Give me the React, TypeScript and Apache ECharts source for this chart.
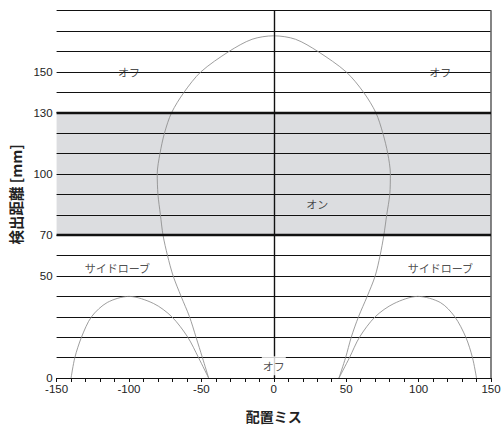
import React, { useEffect, useRef } from "react";
import * as echarts from "echarts";

// Main detection lobe (x: misalignment, y: distance)
const mainLobeX = [-45, -49.3, -53.7, -58.2, -64, -69.5, -73.4, -76.5, -78.3, -80, -80.5, -78.6, -75.5, -70.6, -62, -50.4, -31, -15, 0, 15, 30.5, 50, 62, 70.5, 75.3, 78.7, 80.5, 80.1, 78, 76, 73.4, 70, 64.5, 58.5, 53.5, 49.6, 45];
const mainLobeY = [0, 10, 20, 30, 40, 50, 60, 70, 80, 90, 100, 110, 120, 130, 140, 150, 160, 166, 167.7, 166, 160, 150, 140, 130, 120, 110, 100, 90, 80, 70, 60, 50, 40, 30, 20, 10, 0];

// Side lobes
const leftLobeX = [-140, -137.4, -132.8, -125.9, -115, -100, -83, -70.4, -59.4, -52, -45];
const leftLobeY = [0, 10, 20, 30, 37, 40, 36.5, 30, 20, 10, 0];
const rightLobeX = [45, 52.3, 59.2, 70, 83, 99.5, 115, 125, 132.6, 137.2, 140];
const rightLobeY = [0, 10, 20, 30, 36.5, 40, 37, 30, 20, 10, 0];

// ON band
const bandMin = 70;
const bandMax = 130;

// Axis settings
const xMin = -150;
const xMax = 150;
const yMin = 0;
const yMax = 180;
const yLabelValues = [0, 50, 70, 100, 130, 150];

// Region annotations
const annotationNames = ["オフ", "オフ", "オン", "サイドローブ", "サイドローブ", "オフ"];
const annotationX = [-100, 115, 30, -108, 115, 0];
const annotationY = [150, 150, 85.5, 54, 54, 6];

const xTitle = "配置ミス";
const yTitle = "検出距離 [mm]";

const numFont = "'Liberation Sans Narrow', 'Arial Narrow', 'Liberation Sans', sans-serif";
const jpFont = "'Noto Sans CJK JP', sans-serif";

export default function App() {
  const ref = useRef<HTMLDivElement>(null);

  useEffect(() => {
    if (!ref.current) return;
    const chart = echarts.init(ref.current, undefined, { renderer: "svg" });

    const areaColors: string[] = [];
    for (let v = yMin; v < yMax; v += 10) {
      areaColors.push(v >= bandMin && v < bandMax ? "#dcdde0" : "rgba(255,255,255,0)");
    }

    const zip = (xs: number[], ys: number[]) => xs.map((x, i) => [x, ys[i]]);
    const curveStyle = { color: "#8c8c8c", width: 0.85 };

    chart.setOption({
      animation: false,
      grid: { left: 55, right: 13, top: 10.7, bottom: 46, containLabel: false },
      xAxis: {
        type: "value",
        min: xMin,
        max: xMax,
        interval: 10,
        name: xTitle,
        nameLocation: "middle",
        nameGap: 31,
        nameTextStyle: { fontFamily: jpFont, fontSize: 14, fontWeight: "bold", color: "#222", verticalAlign: "top" },
        axisLine: { show: true, onZero: false, lineStyle: { color: "#111", width: 1.2 } },
        axisTick: { show: true, length: 4, lineStyle: { color: "#111", width: 1 } },
        axisLabel: {
          fontFamily: numFont,
          fontSize: 11.5,
          lineHeight: 11,
          color: "#222",
          margin: 5,
          formatter: (v: number) => (v % 50 === 0 ? String(v) : ""),
        },
        splitLine: { show: false },
      },
      yAxis: [
        {
          type: "value",
          min: yMin,
          max: yMax,
          interval: 10,
          name: yTitle,
          nameLocation: "middle",
          nameGap: 28,
          nameRotate: 90,
          nameTextStyle: { fontFamily: jpFont, fontSize: 14.5, fontWeight: "bold", color: "#222" },
          axisLine: { show: true, lineStyle: { color: "#111", width: 1.2 } },
          axisTick: { show: true, length: 4, lineStyle: { color: "#111", width: 1 } },
          axisLabel: {
            fontFamily: numFont,
            fontSize: 11.5,
            lineHeight: 10,
            color: "#222",
            margin: 4,
            formatter: (v: number) => (yLabelValues.includes(v) ? String(v) : ""),
          },
          splitLine: { show: true, lineStyle: { color: "#111", width: 1.2 } },
          splitArea: { show: true, areaStyle: { color: areaColors } },
        },
        {
          type: "value",
          position: "right",
          min: yMin,
          max: yMax,
          axisLine: { show: true, lineStyle: { color: "#666", width: 1.6 } },
          axisTick: { show: false },
          axisLabel: { show: false },
          splitLine: { show: false },
        },
      ],
      series: [
        {
          type: "line",
          data: zip(mainLobeX, mainLobeY),
          showSymbol: false,
          symbol: "none",
          smooth: 0.3,
          lineStyle: curveStyle,
          z: 3,
          markLine: {
            silent: true,
            symbol: "none",
            label: { show: false },
            data: [
              { yAxis: bandMin, lineStyle: { color: "#111", width: 2.4, type: "solid" } },
              { yAxis: bandMax, lineStyle: { color: "#111", width: 2.4, type: "solid" } },
              { xAxis: 0, lineStyle: { color: "#111", width: 1.2, type: "solid" } },
            ],
          },
        },
        {
          type: "line",
          data: zip(leftLobeX, leftLobeY),
          showSymbol: false,
          symbol: "none",
          smooth: 0.3,
          lineStyle: curveStyle,
          z: 3,
        },
        {
          type: "line",
          data: zip(rightLobeX, rightLobeY),
          showSymbol: false,
          symbol: "none",
          smooth: 0.3,
          lineStyle: curveStyle,
          z: 3,
        },
        {
          type: "scatter",
          symbolSize: 0,
          data: annotationNames.map((n, i) => {
            const nearAxis = annotationY[i] < 10;
            return {
              name: n,
              value: [annotationX[i], annotationY[i]],
              label: nearAxis
                ? { backgroundColor: "#ffffff", padding: [2, 1, 6, 1] }
                : undefined,
            };
          }),
          label: {
            show: true,
            position: "inside",
            formatter: "{b}",
            fontFamily: jpFont,
            fontSize: 11,
            color: "#222",
          },
          z: 5,
        },
      ],
    });

    return () => chart.dispose();
  }, []);

  return <div ref={ref} style={{ position: "absolute", left: 0, top: 0, width: 504, height: 428 }} />;
}
